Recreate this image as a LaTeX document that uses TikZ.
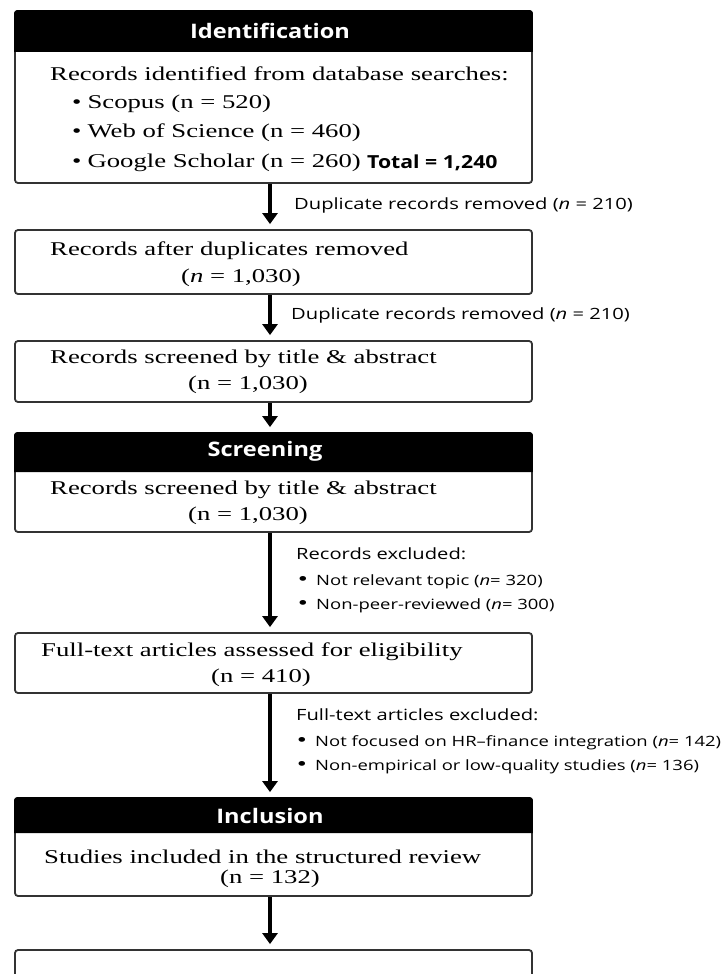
\documentclass[tikz,border=0pt]{standalone}
\usepackage{fontspec}
\setmainfont{Liberation Serif}[FakeStretch=1.37]
\newfontfamily\headfont{Open Sans}[FakeStretch=1.18]
\newfontfamily\sidefont{Open Sans}[FakeStretch=1.3]
\usetikzlibrary{arrows.meta,positioning}

\newcommand{\sidebullet}{\makebox[18pt][l]{\rmfamily\fontsize{20}{20}\selectfont\textbullet}}

\tikzset{
  stagebox/.style={draw=black!80, line width=1.8pt, rounded corners=3pt, minimum width=517pt, inner sep=0pt},
  headtext/.style={text=white, font=\headfont\bfseries\fontsize{20}{24}\selectfont, inner sep=0pt},
  boxtext/.style={font=\fontsize{19.5}{23}\selectfont, inner sep=0pt},
  sidetext/.style={font=\sidefont\fontsize{15.5}{18}\selectfont, inner sep=0pt, anchor=west},
  itemtext/.style={font=\sidefont\fontsize{14.2}{17}\selectfont, inner sep=0pt, anchor=west},
  flow/.style={line width=4.5pt, -{Triangle[width=15pt,length=11pt]}, shorten >=5pt},
}

\begin{document}
\begin{tikzpicture}[x=1pt, y=-1pt]
  \useasboundingbox (0,0) rectangle (720,974);
  \clip (0,0) rectangle (720,974);
  \coordinate (spine) at (270,0);

  % Identification
  \node[stagebox, minimum height=172pt] (idbox) at (273.5,97) {};
  \coordinate (idsplit) at (0,52);
  \fill[black, rounded corners=3pt] (idbox.west |- idsplit) -- (idbox.north west) -- (idbox.north east) [sharp corners] -- (idbox.east |- idsplit) -- cycle;
  \node[headtext] (idhead) at (270,31) {Identification};
  \node[boxtext, anchor=west] (idtext) at (50,74) {Records identified from database searches:};
  \foreach \nm/\yy/\txt in {scopus/104/Scopus (n = 520), wos/133/Web of Science (n = 460), gscholar/163/Google Scholar (n = 260)}
    \node[boxtext, anchor=west] (\nm) at (72,\yy) {\textbullet\hspace{6pt}\txt};
  \node[font=\headfont\bfseries\fontsize{18}{22}\selectfont, inner sep=0pt, anchor=west] (total) at (367,163) {Total = 1,240};

  % after duplicates
  \node[stagebox, minimum height=64pt] (dupbox) at (273.5,262) {};
  \node[boxtext, anchor=west] (duptext) at (50,251) {Records after duplicates removed};
  \node[boxtext] (dupn) at (241,278) {(\textit{n} = 1,030)};

  % screened
  \node[stagebox, minimum height=61pt] (scrbox) at (273.5,371.5) {};
  \node[boxtext, anchor=west] (scrtext) at (50,359) {Records screened by title \& abstract};
  \node[boxtext] (scrn) at (248,385) {(n = 1,030)};

  % Screening
  \node[stagebox, minimum height=99pt] (sgbox) at (273.5,482.5) {};
  \coordinate (sgsplit) at (0,472);
  \fill[black, rounded corners=3pt] (sgbox.west |- sgsplit) -- (sgbox.north west) -- (sgbox.north east) [sharp corners] -- (sgbox.east |- sgsplit) -- cycle;
  \node[headtext] (sghead) at (265,451) {Screening};
  \node[boxtext, anchor=west] (sgtext) at (50,490) {Records screened by title \& abstract};
  \node[boxtext] (sgn) at (248,516) {(n = 1,030)};

  % eligibility
  \node[stagebox, minimum height=60pt] (ftbox) at (273.5,663) {};
  \node[boxtext, anchor=west] (fttext) at (41,652) {Full-text articles assessed for eligibility};
  \node[boxtext] (ftn) at (261,678) {(n = 410)};

  % Inclusion
  \node[stagebox, minimum height=98pt] (incbox) at (273.5,847) {};
  \coordinate (incsplit) at (0,833);
  \fill[black, rounded corners=3pt] (incbox.west |- incsplit) -- (incbox.north west) -- (incbox.north east) [sharp corners] -- (incbox.east |- incsplit) -- cycle;
  \node[headtext] (inchead) at (270,816) {Inclusion};
  \node[boxtext, anchor=west] (inctext) at (44,857) {Studies included in the structured review};
  \node[boxtext] (incn) at (270,879) {(n = 132)};

  % last box, cut off
  \node[stagebox, minimum height=60pt] (endbox) at (273.5,980) {};

  % arrows
  \foreach \a/\b in {idbox/dupbox, dupbox/scrbox, scrbox/sgbox, sgbox/ftbox, ftbox/incbox, incbox/endbox}
    \draw[flow] (\a.south -| spine) -- (\b.north -| spine);

  % side notes
  \node[sidetext] (dupnote1) at (294,205) {Duplicate records removed (\textit{n} = 210)};
  \node[sidetext] (dupnote2) at (291,315) {Duplicate records removed (\textit{n} = 210)};
  \node[sidetext] (recex) at (296,554) {Records excluded:};
  \node[itemtext] (recex1) at (298,582) {\sidebullet Not relevant topic (\textit{n}= 320)};
  \node[itemtext] (recex2) at (298,606) {\sidebullet Non-peer-reviewed (\textit{n}= 300)};
  \node[sidetext] (ftex) at (296,715) {Full-text articles excluded:};
  \node[itemtext] (ftex1) at (297,743) {\sidebullet Not focused on HR–finance integration (\textit{n}= 142)};
  \node[itemtext] (ftex2) at (297,767) {\sidebullet Non-empirical or low-quality studies (\textit{n}= 136)};
\end{tikzpicture}
\end{document}
